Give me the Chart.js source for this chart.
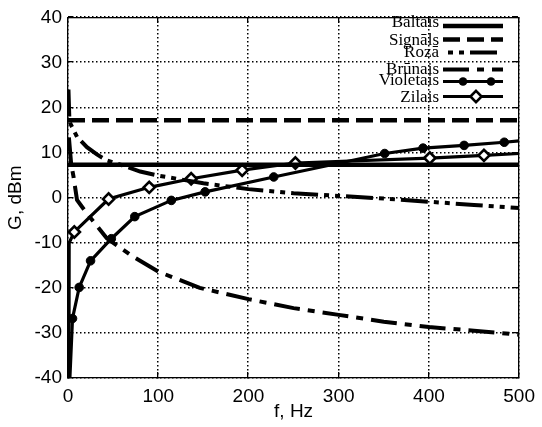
<!DOCTYPE html>
<html>
<head>
<meta charset="utf-8">
<script src="https://cdn.jsdelivr.net/npm/chart.js@4.4.1/dist/chart.umd.min.js"></script>
<style>
html,body{margin:0;padding:0;background:#fff;}
#wrap{width:542px;height:427px;position:relative;}
</style>
</head>
<body>
<div id="wrap"><canvas id="c" width="542" height="427"></canvas></div>
<script>
// ---- data ----
const seriesNames = ['Baltais', 'Signāls', 'Rozā', 'Brūnais', 'Violetais', 'Zilais'];

const baltaisX = [0, 500];
const baltaisY = [7.3, 7.3];

const signalsX = [0, 500];
const signalsY = [17.2, 17.2];

const rozaX = [0.5, 1.5, 2.5, 10, 21, 32, 43, 60, 80, 100, 150, 200, 250, 300, 350, 400, 450, 500];
const rozaY = [24, 17.5, 16.5, 13.5, 11.2, 9.6, 8.3, 7.2, 5.8, 4.9, 3.2, 1.9, 1.0, 0.4, -0.2, -0.9, -1.6, -2.3];

const brunaisX = [1, 3.5, 6, 10, 21, 43, 70, 100, 146, 200, 250, 300, 350, 400, 450, 500];
const brunaisY = [13.4, 7.5, 4.8, -0.5, -3.5, -9, -12.8, -16.4, -20, -22.5, -24.5, -26, -27.5, -28.7, -29.5, -30.4];

const violetaisX = [1, 5, 12.4, 25, 48, 74, 114.5, 152, 228, 351, 393.5, 439, 483.5, 500];
const violetaisY = [-45, -26.8, -19.9, -14, -9.1, -4.2, -0.6, 1.3, 4.6, 9.8, 11.0, 11.6, 12.3, 12.6];

const zilaisX = [1, 1.3, 7, 45, 90, 136.5, 193, 252, 401, 461, 500];
const zilaisY = [-45, -10, -7.6, -0.3, 2.3, 4.2, 6.1, 7.7, 8.8, 9.4, 9.8];

const xTicks = [0, 100, 200, 300, 400, 500];
const yTicks = [-40, -30, -20, -10, 0, 10, 20, 30, 40];

const xTitle = 'f, Hz';
const yTitle = 'G, dBm';

// ---- build ----
const pts = (xs, ys) => xs.map((x, i) => ({x: x, y: ys[i]}));
// markers only on measured points, not on the edge extensions
const markerRadius = r => ctx => {
  const d = ctx.dataset.data[ctx.dataIndex];
  return (d && d.x > 2 && d.x < 500) ? r : 0;
};

const DASH_SIGNALS = [17, 7];
const DASH_ROZA = [27, 6, 5, 6, 5, 6];
const DASH_BRUNAIS = [26, 8, 7, 8];

const datasets = [
  {label: seriesNames[0], data: pts(baltaisX, baltaisY), borderColor: '#000', borderWidth: 4.5, pointRadius: 0, lgMarkers: []},
  {label: seriesNames[1], data: pts(signalsX, signalsY), borderColor: '#000', borderWidth: 4.5, borderDash: DASH_SIGNALS, pointRadius: 0, lgMarkers: []},
  {label: seriesNames[2], data: pts(rozaX, rozaY), borderColor: '#000', borderWidth: 4, borderDash: DASH_ROZA, pointRadius: 0, lgMarkers: [], lgDashOffset: 28},
  {label: seriesNames[3], data: pts(brunaisX, brunaisY), borderColor: '#000', borderWidth: 4, borderDash: DASH_BRUNAIS, pointRadius: 0, lgMarkers: []},
  {label: seriesNames[4], data: pts(violetaisX, violetaisY), borderColor: '#000', borderWidth: 3.2, pointRadius: markerRadius(4.3), pointStyle: 'circle', pointBackgroundColor: '#000', pointBorderColor: '#000', pointBorderWidth: 1, lgMarkers: [463, 491], lgStyle: 'circle'},
  {label: seriesNames[5], data: pts(zilaisX, zilaisY), borderColor: '#000', borderWidth: 3.2, pointRadius: markerRadius(5.6), pointStyle: 'rectRot', pointBackgroundColor: '#fff', pointBorderColor: '#000', pointBorderWidth: 2.6, lgMarkers: [476], lgStyle: 'rectRot'}
];
datasets.forEach(d => { d.fill = false; d.tension = 0; d.clip = 0; d.pointHoverRadius = 0; });

const LEG_TEXT_Y = [23, 41, 53, 70, 81, 98];
const LEG_LINE_Y = [26, 39.5, 52.5, 69.5, 81.5, 96.5];

const framePlugin = {
  id: 'frame',
  beforeDatasetsDraw(chart) {
    // dotted grid
    const ctx = chart.ctx;
    const a = chart.chartArea;
    const xs = chart.scales.x, ys = chart.scales.y;
    ctx.save();
    ctx.fillStyle = '#000';
    const L = Math.round(a.left), R = Math.round(a.right), T = Math.round(a.top), B = Math.round(a.bottom);
    for (let i = 0; i < xTicks.length; i++) {
      const px = Math.round(xs.getPixelForValue(xTicks[i])) - 1;
      for (let yy = T; yy < B; yy += 4) ctx.fillRect(px, yy, 1.5, 1.5);
    }
    for (let i = 0; i < yTicks.length; i++) {
      const py = Math.round(ys.getPixelForValue(yTicks[i])) - 1;
      for (let xx = L; xx < R; xx += 4) ctx.fillRect(xx, py, 1.5, 1.5);
    }
    ctx.restore();
  },
  afterDatasetsDraw(chart) {
    const ctx = chart.ctx;
    const a = chart.chartArea;
    const xs = chart.scales.x, ys = chart.scales.y;
    ctx.save();
    ctx.fillStyle = '#000';
    const L = Math.round(a.left) - 1, R = Math.round(a.right) - 1, T = Math.round(a.top), B = Math.round(a.bottom) - 1;
    ctx.fillRect(L, T, R - L + 1, 1.3);
    ctx.fillRect(L, B, R - L + 1, 1.3);
    ctx.fillRect(L, T, 1.3, B - T + 1);
    ctx.fillRect(R, T, 1.3, B - T + 1);
    for (let i = 0; i < xTicks.length; i++) {
      const px = Math.round(xs.getPixelForValue(xTicks[i])) - 1;
      ctx.fillRect(px, B - 5, 1.3, 5);
      ctx.fillRect(px, T + 1, 1.3, 5);
    }
    for (let i = 0; i < yTicks.length; i++) {
      const py = Math.round(ys.getPixelForValue(yTicks[i])) - 1;
      ctx.fillRect(L + 1, py, 5, 1.3);
      ctx.fillRect(R - 5, py, 5, 1.3);
    }
    ctx.restore();
  },
  afterDraw(chart) {
    const ctx = chart.ctx;
    chart.data.datasets.forEach((ds, i) => {
      ctx.save();
      ctx.font = '17px "Liberation Serif"';
      ctx.fillStyle = '#000';
      ctx.textAlign = 'right';
      ctx.textBaseline = 'middle';
      ctx.fillText(ds.label, 439, LEG_TEXT_Y[i]);
      const ly = LEG_LINE_Y[i];
      ctx.strokeStyle = ds.borderColor;
      ctx.lineWidth = ds.borderWidth;
      ctx.setLineDash(ds.borderDash || []);
      ctx.lineDashOffset = ds.lgDashOffset || 0;
      ctx.beginPath();
      ctx.moveTo(443, ly); ctx.lineTo(503, ly);
      ctx.stroke();
      ctx.setLineDash([]);
      (ds.lgMarkers || []).forEach(mx => {
        ctx.beginPath();
        if (ds.lgStyle === 'circle') {
          ctx.arc(mx, ly, 4.3, 0, Math.PI * 2);
          ctx.fillStyle = '#000'; ctx.fill();
        } else {
          const r = 5.6;
          ctx.moveTo(mx, ly - r); ctx.lineTo(mx + r, ly); ctx.lineTo(mx, ly + r); ctx.lineTo(mx - r, ly); ctx.closePath();
          ctx.fillStyle = '#fff'; ctx.fill();
          ctx.lineWidth = 2.6; ctx.strokeStyle = '#000'; ctx.stroke();
        }
      });
      ctx.restore();
    });
  }
};

const tickFont = {family: '"Liberation Sans", Arial, sans-serif', size: 19};

new Chart(document.getElementById('c'), {
  type: 'line',
  data: {datasets: datasets},
  options: {
    responsive: false,
    animation: false,
    devicePixelRatio: 1,
    layout: {padding: {left: 0, right: 20, top: 17, bottom: 0}},
    plugins: {legend: {display: false}, tooltip: {enabled: false}},
    scales: {
      x: {
        type: 'linear', min: 0, max: 500,
        afterBuildTicks: s => { s.ticks = xTicks.map(v => ({value: v})); },
        ticks: {font: tickFont, color: '#000', padding: 7, maxRotation: 0, autoSkip: false},
        grid: {display: false, drawTicks: false},
        border: {display: false},
        title: {display: true, text: xTitle, font: tickFont, color: '#000', padding: {top: 0, bottom: 4}},
        afterFit: s => { s.height = 49; }
      },
      y: {
        type: 'linear', min: -40, max: 40,
        afterBuildTicks: s => { s.ticks = yTicks.map(v => ({value: v})); },
        ticks: {font: tickFont, color: '#000', padding: 6, autoSkip: false},
        grid: {display: false, drawTicks: false},
        border: {display: false},
        title: {display: true, text: yTitle, font: tickFont, color: '#000', padding: {top: 4, bottom: 0}},
        afterFit: s => { s.width = 68; }
      }
    }
  },
  plugins: [framePlugin]
});
</script>
</body>
</html>
